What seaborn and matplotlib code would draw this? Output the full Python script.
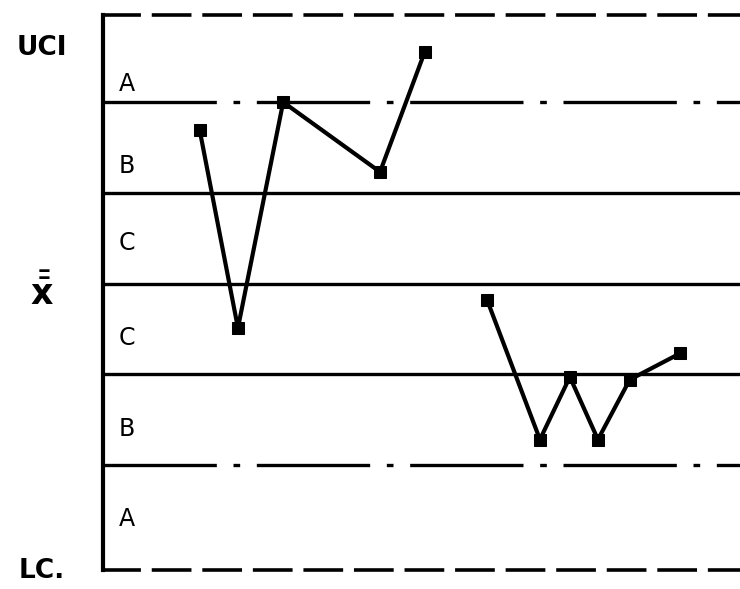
import matplotlib
matplotlib.use("Agg")
import matplotlib.pyplot as plt
import matplotlib.transforms as mtransforms
import numpy as np
import pandas as pd
import seaborn as sns

# Two runs of subgroup means, in sigma units about the centre line
run1_x = [15.2, 21.2, 28.3, 43.5, 50.5]
run1_y = [1.69, -0.49, 2.0, 1.23, 2.55]
run2_x = [60.3, 68.6, 73.3, 77.7, 82.7, 90.6]
run2_y = [-0.18, -1.72, -1.03, -1.72, -1.06, -0.77]

# Zone boundaries and zone letters (top to bottom)
zone_lines = [2, 1, 0, -1, -2]
zone_labels = ["A", "B", "C", "C", "B", "A"]
zone_label_y = [2.2, 1.3, 0.45, -0.6, -1.6, -2.6]

# Control limits sit on the frame edges
ucl, lcl = 2.96, -3.16
limit_labels = ["UCI", r"$\bar{\bar{\mathbf{x}}}$", "LC."]
limit_label_y = [2.6, -0.1, -3.17]
limit_label_size = [19, 25, 19]

df = pd.concat([
    pd.DataFrame({"x": run1_x, "y": run1_y, "run": "1"}),
    pd.DataFrame({"x": run2_x, "y": run2_y, "run": "2"}),
], ignore_index=True)

sns.set_style("white")
plt.rcParams["font.family"] = ["DejaVu Sans"]
plt.rcParams["mathtext.fontset"] = "dejavusans"

fig = plt.figure(figsize=(7.4, 5.89), dpi=100)
ax = fig.add_axes([0.139, 0.032, 0.861, 0.9425])

# zone boundary lines
for v in zone_lines:
    if abs(v) == 2:
        ax.axhline(v, color="black", lw=2.4, linestyle=(0, (34, 5, 2, 5)))
    else:
        ax.axhline(v, color="black", lw=2.4)

sns.lineplot(data=df, x="x", y="y", units="run", estimator=None, color="black",
             lw=3.0, marker="s", markersize=8, markeredgecolor="black", ax=ax,
             legend=False)

ax.set_xlim(0, 100)
ax.set_ylim(lcl, ucl)

ax.spines["right"].set_visible(False)
ax.spines["left"].set_linewidth(3.0)
ax.spines["left"].set_color("black")
for side in ["top", "bottom"]:
    ax.spines[side].set_linewidth(2.6)
    ax.spines[side].set_color("black")
    ax.spines[side].set_linestyle((0, (10, 4)))

ax.set_xticks([])
ax.set_yticks([])
ax.set_xlabel("")
ax.set_ylabel("")

for lab, yv in zip(zone_labels, zone_label_y):
    ax.text(3.8, yv, lab, fontsize=17, ha="center", va="center", color="black")

trans = mtransforms.blended_transform_factory(fig.transFigure, ax.transData)
for lab, yv, fs in zip(limit_labels, limit_label_y, limit_label_size):
    ax.text(0.057, yv, lab, fontsize=fs, fontweight="bold", ha="center", va="center",
            color="black", transform=trans)

fig.savefig("out.png", dpi=100, facecolor="white")
